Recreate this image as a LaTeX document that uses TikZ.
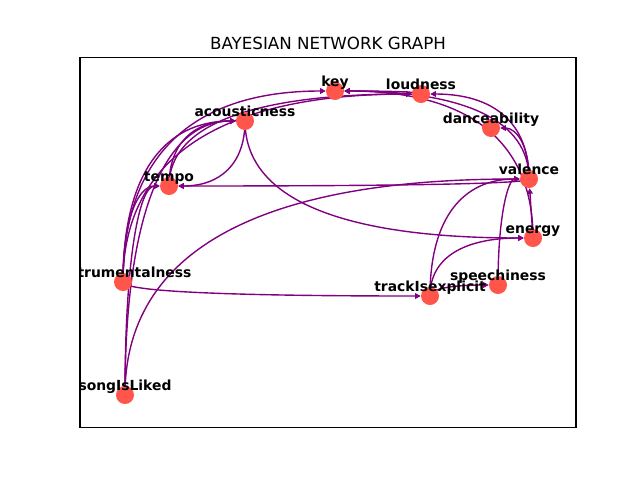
\documentclass[tikz,border=0pt]{standalone}
\usepackage{fontspec}
\setmainfont{DejaVu Sans}
\usetikzlibrary{arrows.meta,calc,backgrounds}
\definecolor{nodered}{RGB}{255,85,75}
\definecolor{edgepurple}{RGB}{128,0,128}
\tikzset{
  bnnode/.style={circle, fill=nodered, draw=none, minimum size=18pt, inner sep=0pt},
  bnlabel/.style={font=\fontsize{13.9}{16}\selectfont\bfseries, anchor=base, inner sep=0pt},
  bntitle/.style={font=\fontsize{16.7}{20}\selectfont, anchor=base, inner sep=0pt},
  bnarrow/.style={draw=edgepurple, line width=1.39pt, -{Triangle[length=5.6pt,width=5.6pt]}},
}
\newcommand\bnedge[2]{\draw[bnarrow] (#1.center) .. controls ($(#1.center)!0.6667!(#1.center|-#2.center)$) and ($(#2.center)!0.6667!(#1.center|-#2.center)$) .. (#2);}
\begin{document}
\begin{tikzpicture}[x=1pt,y=-1pt]
\useasboundingbox (0,0) rectangle (640,480);
\node[bntitle] (title) at (328,49.3) {BAYESIAN NETWORK GRAPH};
\draw[line width=1.1pt] (80,57.6) rectangle (576,427.2);
% nodes
\node[bnnode] (key) at (335,91) {};
\node[bnnode] (loudness) at (421,94) {};
\node[bnnode] (acousticness) at (245,121) {};
\node[bnnode] (danceability) at (491,128) {};
\node[bnnode] (tempo) at (169,186) {};
\node[bnnode] (valence) at (529,179) {};
\node[bnnode] (energy) at (533,238) {};
\node[bnnode] (instrumentalness) at (123,282) {};
\node[bnnode] (trackIsexplicit) at (430,296) {};
\node[bnnode] (speechiness) at (498,285) {};
\node[bnnode] (songIsLiked) at (125,395) {};
\begin{pgfonlayer}{background}
\fill[white] (0,0) rectangle (640,480);
\bnedge{acousticness}{tempo}
\bnedge{acousticness}{energy}
\bnedge{valence}{tempo}
\bnedge{instrumentalness}{trackIsexplicit}
\bnedge{songIsLiked}{valence}
\bnedge{trackIsexplicit}{valence}
\bnedge{trackIsexplicit}{energy}
\bnedge{speechiness}{valence}
\draw[bnarrow] (energy.center) -- (valence);
\bnedge{energy}{key}
\bnedge{valence}{danceability}
\bnedge{valence}{loudness}
\bnedge{valence}{key}
\bnedge{loudness}{key}
\bnedge{instrumentalness}{key}
\bnedge{instrumentalness}{acousticness}
\bnedge{instrumentalness}{tempo}
\bnedge{songIsLiked}{tempo}
\bnedge{songIsLiked}{acousticness}
\bnedge{tempo}{acousticness}
\bnedge{tempo}{loudness}
\bnedge{instrumentalness}{loudness}
\bnedge{trackIsexplicit}{speechiness}
\end{pgfonlayer}
% labels
\begin{scope}
\clip (80,57.6) rectangle (576,427.2);
\node[bnlabel] (lkey) at (335,86.7) {key};
\node[bnlabel] (lloudness) at (421,89.7) {loudness};
\node[bnlabel] (lacousticness) at (245,116.7) {acousticness};
\node[bnlabel] (ldanceability) at (491,123.7) {danceability};
\node[bnlabel] (ltempo) at (169,181.7) {tempo};
\node[bnlabel] (lvalence) at (529,174.7) {valence};
\node[bnlabel] (lenergy) at (533,233.7) {energy};
\node[bnlabel] (linstrumentalness) at (123,277.7) {instrumentalness};
\node[bnlabel] (ltrackIsexplicit) at (430,291.7) {trackIsexplicit};
\node[bnlabel] (lspeechiness) at (498,280.7) {speechiness};
\node[bnlabel] (lsongIsLiked) at (125,390.7) {songIsLiked};
\end{scope}
\end{tikzpicture}
\end{document}
